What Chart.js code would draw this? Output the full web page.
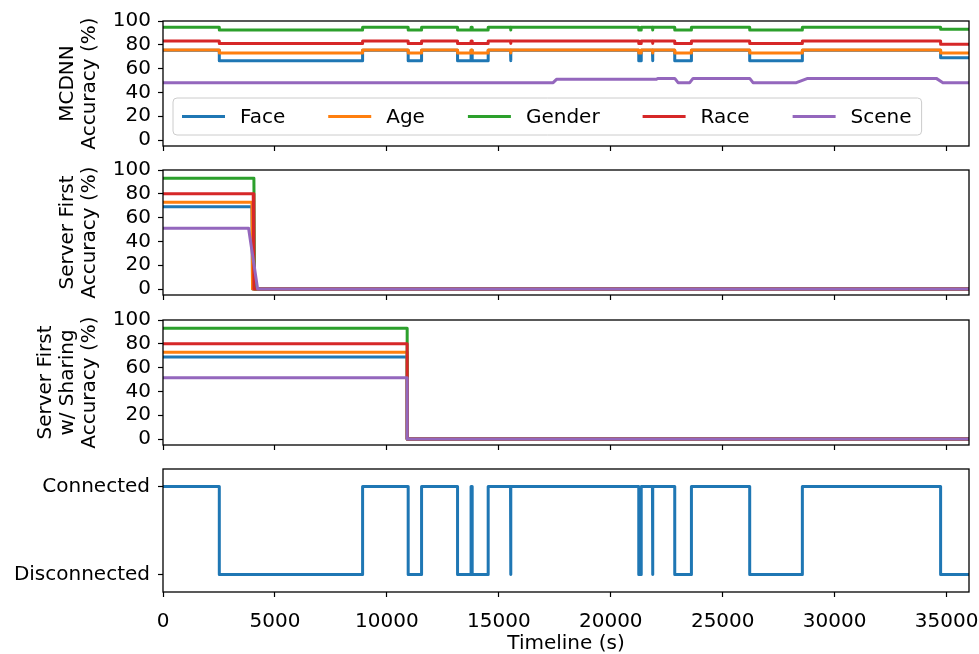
<!DOCTYPE html>
<html>
<head>
<meta charset="utf-8">
<title>Accuracy timeline</title>
<script src="https://cdn.jsdelivr.net/npm/chart.js@4.4.0/dist/chart.umd.min.js"></script>
<style>
  html, body { margin: 0; padding: 0; background: #fff; }
  #fig { position: relative; width: 979px; height: 654px; overflow: hidden; background: #fff; }
  #fig canvas { position: absolute; left: 0; }
</style>
</head>
<body>
<div id="fig">
  <canvas id="mcdnn"></canvas>
  <canvas id="serverFirst"></canvas>
  <canvas id="sharing"></canvas>
  <canvas id="link"></canvas>
</div>
<script>
// ---- data ----------------------------------------------------------------
const tasks = ['Face', 'Age', 'Gender', 'Race', 'Scene'];
const taskColors = ['#1f77b4', '#ff7f0e', '#2ca02c', '#d62728', '#9467bd'];
const timeTicks = [0, 5000, 10000, 15000, 20000, 25000, 30000, 35000];
const accuracyTicks = [0, 20, 40, 60, 80, 100];
const linkLabels = ['Disconnected', 'Connected'];

// moments (s) where the network link changes state, and the state from then on
const switchTimes = [0, 2515, 8915, 10951, 11549, 13156, 13760, 13810, 14524, 15522, 15540,
                     21250, 21360, 21861, 21880, 22857, 23602, 26205, 28557, 34732, 36000];
const linkState   = [1, 0, 1, 0, 1, 0, 1, 0, 1, 0, 1, 0, 1, 0, 1, 0, 1, 0, 1, 0, 0];

// MCDNN accuracy (%) held from each switch time until the next one
const mcdnnFace   = [75.5, 66.7, 75.5, 66.7, 75.5, 66.7, 75.5, 66.7, 75.5, 66.7, 75.5,
                     66.7, 75.5, 66.7, 75.5, 66.7, 75.5, 66.7, 75.5, 69.2, 69.2];
const mcdnnAge    = [75.6, 73.1, 75.6, 73.1, 75.6, 73.1, 75.6, 73.1, 75.6, 73.1, 75.6,
                     73.1, 75.6, 73.1, 75.6, 73.1, 75.6, 73.1, 75.6, 73.1, 73.1];
const mcdnnGender = [94.7, 92.4, 94.7, 92.4, 94.7, 92.4, 94.7, 92.4, 94.7, 92.4, 94.7,
                     92.4, 94.7, 92.4, 94.7, 92.4, 94.7, 92.4, 94.7, 93.0, 93.0];
const mcdnnRace   = [83.2, 81.2, 83.2, 81.2, 83.2, 81.2, 83.2, 81.2, 83.2, 81.2, 83.2,
                     81.2, 83.2, 81.2, 83.2, 81.2, 83.2, 81.2, 83.2, 80.4, 80.4];
// scene accuracy drifts on its own schedule
const sceneTimes  = [0, 17425, 17575, 22040, 22100, 22857, 23006, 23527, 23675,
                     26205, 26353, 28290, 28795, 34540, 34835, 36000];
const sceneAcc    = [48.2, 48.2, 51.0, 51.0, 51.8, 51.8, 48.2, 48.2, 51.8,
                     51.8, 48.2, 48.2, 51.8, 51.8, 48.2, 48.2];

// Server First: accuracy per task (Face, Age, Gender, Race, Scene) until the server is lost
const serverFirstAcc       = [69.2, 72.9, 93.0, 80.1, 51.1];
const serverFirstDropStart = [3973, 3973, 4060, 4030, 3823];
const serverFirstDropEnd   = [4000, 4000, 4090, 4060, 4226];

// Server First w/ Sharing
const sharingAcc       = [69.0, 72.9, 93.0, 80.1, 51.4];
const sharingDropStart = [10906, 10906, 10906, 10906, 10906];
const sharingDropEnd   = [10906, 10906, 10906, 10906, 10906];

const timeEnd = 36000;

// ---- helpers -------------------------------------------------------------
const FONT = '"DejaVu Sans", "Liberation Sans", sans-serif';
Chart.defaults.font.family = FONT;
Chart.defaults.font.size = 20;
Chart.defaults.color = '#000';
Chart.defaults.animation = false;

const LINE_W = 3;

// turn "value holds from t[i]" into vertical-step points
function stepPoints(times, values) {
  const pts = [];
  for (let i = 0; i < times.length; i++) {
    if (i > 0) pts.push({ x: times[i], y: values[i - 1] });
    pts.push({ x: times[i], y: values[i] });
  }
  return pts;
}
function plainPoints(times, values) {
  return times.map((t, i) => ({ x: t, y: values[i] }));
}
function dropPoints(level, start, end) {
  return [{ x: 0, y: level }, { x: start, y: level }, { x: end, y: 0 }, { x: timeEnd, y: 0 }];
}
function lineDataset(label, color, data, i) {
  return {
    label, data,
    borderColor: color, backgroundColor: color,
    borderWidth: LINE_W, pointRadius: 0, pointHoverRadius: 0,
    tension: 0, fill: false, borderJoinStyle: 'round', borderCapStyle: 'butt',
    order: tasks.length - i
  };
}

// box round every plot area
const framePlugin = {
  id: 'frame',
  afterDraw(chart) {
    const { ctx, chartArea: a } = chart;
    ctx.save();
    ctx.strokeStyle = '#000';
    ctx.lineWidth = 1.3;
    ctx.strokeRect(a.left, a.top, a.right - a.left, a.bottom - a.top);
    ctx.restore();
  }
};

// legend in the lower left of the plot area, five columns
const innerLegend = {
  id: 'innerLegend',
  afterDatasetsDraw(chart) {
    const { ctx, chartArea: a } = chart;
    const sets = chart.data.datasets;
    ctx.save();
    ctx.font = '20px ' + FONT;
    const handle = 43, gap = 15, colGap = 43, padL = 9, padR = 10, h = 37;
    let w = padL + padR;
    sets.forEach((d, i) => {
      w += handle + gap + ctx.measureText(d.label).width;
      if (i < sets.length - 1) w += colGap;
    });
    const x0 = a.left + 10, y1 = a.bottom - 11, y0 = y1 - h;
    ctx.beginPath();
    ctx.roundRect(x0, y0, w, h, 4);
    ctx.fillStyle = 'rgba(255,255,255,0.8)';
    ctx.fill();
    ctx.strokeStyle = '#cccccc';
    ctx.lineWidth = 1;
    ctx.stroke();
    const cy = (y0 + y1) / 2;
    let x = x0 + padL;
    ctx.textBaseline = 'middle';
    ctx.textAlign = 'left';
    sets.forEach((d) => {
      ctx.strokeStyle = d.borderColor;
      ctx.lineWidth = LINE_W;
      ctx.beginPath();
      ctx.moveTo(x, cy);
      ctx.lineTo(x + handle, cy);
      ctx.stroke();
      ctx.fillStyle = '#000';
      ctx.fillText(d.label, x + handle + gap, cy + 1);
      x += handle + gap + ctx.measureText(d.label).width + colGap;
    });
    ctx.restore();
  }
};

const PLOT_LEFT = 163, FIG_W = 979, PAD_TOP = 15, PAD_RIGHT = FIG_W - 969;

function makePanel(id, cfg) {
  const canvas = document.getElementById(id);
  const height = PAD_TOP + (cfg.plotBottom - cfg.plotTop) + cfg.xHeight;
  canvas.width = FIG_W;
  canvas.height = height;
  canvas.style.width = FIG_W + 'px';
  canvas.style.height = height + 'px';
  canvas.style.top = (cfg.plotTop - PAD_TOP) + 'px';

  const showX = !!cfg.xLabels;
  return new Chart(canvas, {
    type: 'line',
    data: { datasets: cfg.datasets },
    plugins: [framePlugin].concat(cfg.plugins || []),
    options: {
      responsive: false,
      animation: false,
      devicePixelRatio: 1,
      parsing: false,
      normalized: true,
      events: [],
      layout: { padding: { top: PAD_TOP, right: PAD_RIGHT, bottom: 0, left: 0 } },
      plugins: { legend: { display: false }, tooltip: { enabled: false } },
      scales: {
        x: {
          type: 'linear', min: 0, max: timeEnd,
          afterBuildTicks: (s) => { s.ticks = timeTicks.map((v) => ({ value: v })); },
          ticks: { display: showX, autoSkip: false, maxRotation: 0, padding: 13,
                   font: { size: 20 }, callback: (v) => String(v) },
          grid: { display: true, drawOnChartArea: false, drawTicks: true, tickLength: 5,
                  tickColor: '#000', tickWidth: 1.2 },
          border: { display: false },
          title: { display: showX, text: 'Timeline (s)', padding: { top: 0, bottom: 0 },
                   font: { size: 20, lineHeight: 1.0 } },
          afterFit: (s) => { s.height = cfg.xHeight; s.paddingLeft = 0; s.paddingRight = 0; }
        },
        y: Object.assign({
          type: 'linear',
          grid: { display: true, drawOnChartArea: false, drawTicks: true, tickLength: 5,
                  tickColor: '#000', tickWidth: 1.2 },
          border: { display: false },
          afterFit: (s) => { s.width = PLOT_LEFT; s.paddingTop = 0; s.paddingBottom = 0; }
        }, cfg.y)
      }
    }
  });
}

function accuracyAxis(titleLines, titlePad) {
  return {
    min: -5, max: 100,
    afterBuildTicks: (s) => { s.ticks = accuracyTicks.map((v) => ({ value: v })); },
    ticks: { padding: 7, autoSkip: false, font: { size: 20 } },
    title: { display: true, text: titleLines, padding: { top: titlePad, bottom: 0 },
             font: { size: 20, lineHeight: 1.1 } }
  };
}

// ---- panels --------------------------------------------------------------
const mcdnnSeries = [mcdnnFace, mcdnnAge, mcdnnGender, mcdnnRace];
makePanel('mcdnn', {
  plotTop: 21, plotBottom: 146, xHeight: 8,
  y: accuracyAxis(['MCDNN', 'Accuracy (%)'], 57),
  plugins: [innerLegend],
  datasets: tasks.map((t, i) => lineDataset(t, taskColors[i],
    i < 4 ? stepPoints(switchTimes, mcdnnSeries[i]) : plainPoints(sceneTimes, sceneAcc), i))
});

makePanel('serverFirst', {
  plotTop: 170, plotBottom: 295, xHeight: 8,
  y: accuracyAxis(['Server First', 'Accuracy (%)'], 57),
  datasets: tasks.map((t, i) => lineDataset(t, taskColors[i],
    dropPoints(serverFirstAcc[i], serverFirstDropStart[i], serverFirstDropEnd[i]), i))
});

makePanel('sharing', {
  plotTop: 320, plotBottom: 445, xHeight: 8,
  y: accuracyAxis(['Server First', 'w/ Sharing', 'Accuracy (%)'], 35),
  datasets: tasks.map((t, i) => lineDataset(t, taskColors[i],
    dropPoints(sharingAcc[i], sharingDropStart[i], sharingDropEnd[i]), i))
});

makePanel('link', {
  plotTop: 469, plotBottom: 592, xHeight: 62, xLabels: true,
  y: {
    min: -0.2, max: 1.2,
    afterBuildTicks: (s) => { s.ticks = linkLabels.map((_, v) => ({ value: v })); },
    ticks: { padding: 8, autoSkip: false, font: { size: 20 }, callback: (v) => linkLabels[v] },
    title: { display: false }
  },
  datasets: [lineDataset('Link', taskColors[0], stepPoints(switchTimes, linkState), 0)]
});
</script>
</body>
</html>
